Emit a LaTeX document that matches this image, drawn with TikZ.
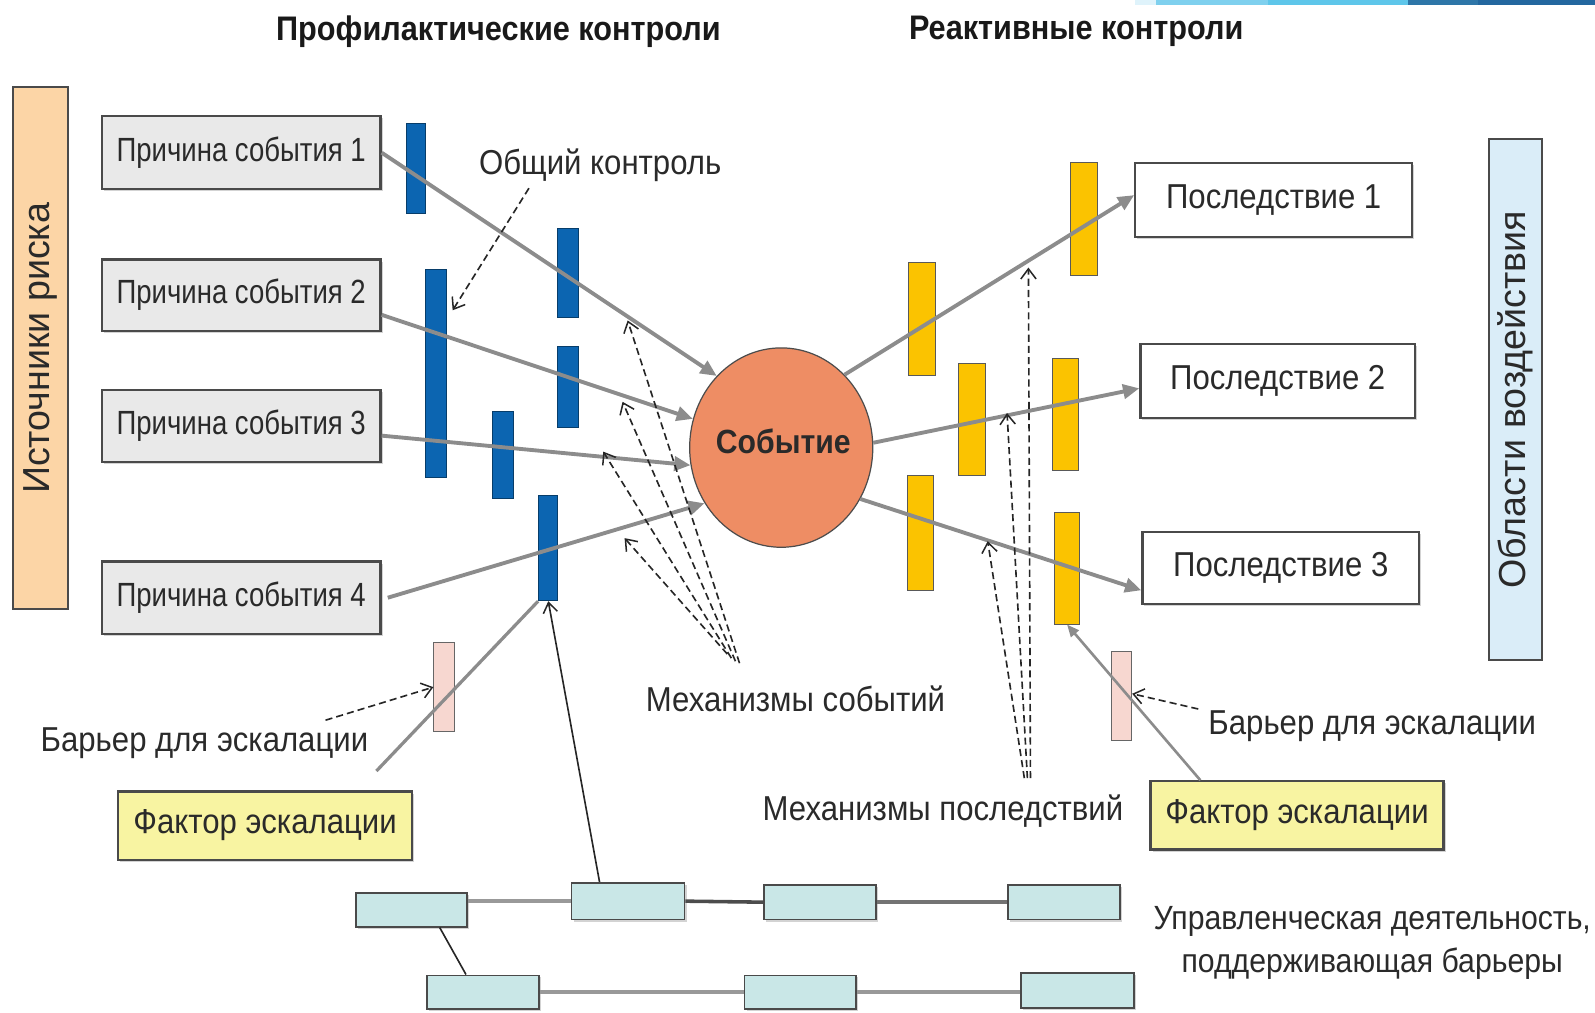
\documentclass[tikz,border=0pt]{standalone}
\usepackage{fontspec}
\setmainfont{Liberation Sans}[FakeStretch=0.9]
\newfontfamily\causefont{Liberation Sans}[FakeStretch=0.82]
\newfontfamily\widefont{Liberation Sans}
\usetikzlibrary{arrows.meta,shadows,calc,shapes.geometric}
\definecolor{peach}{HTML}{FCD5A6}
\definecolor{areablue}{HTML}{DAEDF8}
\definecolor{causefill}{HTML}{E9E9E9}
\definecolor{bluebar}{HTML}{0C65B1}
\definecolor{evfill}{HTML}{EE8D64}
\definecolor{yelbar}{HTML}{FBC300}
\definecolor{pinkbar}{HTML}{F7D7D0}
\definecolor{factfill}{HTML}{F8F4A2}
\definecolor{mgmtfill}{HTML}{C9E7E7}
\definecolor{garr}{HTML}{8C8C8C}
\definecolor{bord}{HTML}{4A4A4A}
\definecolor{txt}{HTML}{2A2A2A}
\definecolor{strA}{HTML}{DFF3FB}
\definecolor{strB}{HTML}{7FD0EE}
\definecolor{strC}{HTML}{5EC6EA}
\definecolor{strD}{HTML}{2E76A8}
\definecolor{strE}{HTML}{23679F}
\begin{document}
\begin{tikzpicture}[x=1pt,y=-1pt,
  every node/.style={font=\fontsize{34}{43}\selectfont, text=txt},
  box/.style={draw=bord, line width=2.2pt, inner sep=0pt, anchor=north west,
    drop shadow={shadow xshift=2pt, shadow yshift=-2pt, opacity=0.35, fill=gray}},
  causebox/.style={box, fill=causefill, font=\causefont\fontsize{33}{40}\selectfont},
  consbox/.style={box, fill=white},
  factbox/.style={box, fill=factfill},
  mgmtbox/.style={box, fill=mgmtfill, line width=1.8pt},
  sidebar/.style={draw=bord, line width=2pt, inner sep=0pt, anchor=north west},
  sidetext/.style={inner sep=1pt, rotate=90, font=\widefont\fontsize{37}{44}\selectfont},
  bar/.style={draw=black!70, line width=1pt, inner sep=0pt, anchor=north west},
  bbar/.style={bar, fill=bluebar, draw=bluebar!60!black},
  ybar/.style={bar, fill=yelbar, draw=black!65},
  pbar/.style={bar, fill=pinkbar, draw=black!60},
  lbl/.style={inner sep=1pt},
  ttl/.style={font=\bfseries\fontsize{33.5}{40}\selectfont, text=black!90},
  garrow/.style={draw=garr, line width=3.8pt, -{Triangle[length=16pt,width=14pt]}},
  gline/.style={draw=garr, line width=3.2pt},
  dasharr/.style={draw=black!85, line width=1.6pt, dash pattern=on 7pt off 4pt,
    -{Straight Barb[length=10pt,width=15pt,line width=1.5pt]}},
  thinarr/.style={draw=black!85, line width=1.6pt, -{Straight Barb[length=10pt,width=14pt,line width=1.5pt]}},
  mline/.style={draw=black!55, line width=3.5pt},
]
\useasboundingbox (0,0) rectangle (1568,995);

% top decoration strip
\fill[strA] (1116,0) rectangle (1136,5);
\fill[strB] (1136,0) rectangle (1247,5);
\fill[strC] (1247,0) rectangle (1384,5);
\fill[strD] (1384,0) rectangle (1453,5);
\fill[strE] (1453,0) rectangle (1568,5);

% titles
\node[ttl] (tprev) at (490,31) {Профилактические контроли};
\node[ttl] (treac) at (1058,31) {Реактивные контроли};

% side bars
\node[sidebar, fill=peach, minimum width=54pt, minimum height=513pt] (src) at (12,85) {};
\node[sidetext] (srct) at (src.center) {Источники риска};
\node[sidebar, fill=areablue, minimum width=52pt, minimum height=512pt] (area) at (1463,136) {};
\node[sidetext] (areat) at (area.center) {Области воздействия};

% cause boxes
\node[causebox, minimum width=274pt, minimum height=72pt] (c1) at (99,113) {Причина события 1};
\node[causebox, minimum width=274pt, minimum height=70pt] (c2) at (99,254) {Причина события 2};
\node[causebox, minimum width=274pt, minimum height=71pt] (c3) at (99,382) {Причина события 3};
\node[causebox, minimum width=274pt, minimum height=71pt] (c4) at (99,551) {Причина события 4};

% consequence boxes
\node[consbox, minimum width=272pt, minimum height=73pt] (q1) at (1115,159) {Последствие 1};
\node[consbox, minimum width=270pt, minimum height=73pt] (q2) at (1120,337) {Последствие 2};
\node[consbox, minimum width=272pt, minimum height=71pt] (q3) at (1122,522) {Последствие 3};

% escalation factor boxes
\node[factbox, minimum width=289pt, minimum height=67pt] (f1) at (115,777) {Фактор эскалации};
\node[factbox, minimum width=288pt, minimum height=67pt] (f2) at (1130,767) {Фактор эскалации};

% blue bars
\node[bbar, minimum width=19pt, minimum height=88pt] (b1) at (399,121) {};
\node[bbar, minimum width=20pt, minimum height=205pt] (b2) at (418,264) {};
\node[bbar, minimum width=20pt, minimum height=88pt] (b3) at (548,224) {};
\node[bbar, minimum width=20pt, minimum height=80pt] (b4) at (548,340) {};
\node[bbar, minimum width=20pt, minimum height=86pt] (b5) at (484,404) {};
\node[bbar, minimum width=19pt, minimum height=103pt] (b6) at (529,487) {};

% yellow bars
\node[ybar, minimum width=26pt, minimum height=111pt] (y1) at (893,258) {};
\node[ybar, minimum width=26pt, minimum height=111pt] (y2) at (1052,159) {};
\node[ybar, minimum width=26pt, minimum height=110pt] (y3) at (942,357) {};
\node[ybar, minimum width=26pt, minimum height=110pt] (y4) at (1034,352) {};
\node[ybar, minimum width=25pt, minimum height=113pt] (y5) at (892,467) {};
\node[ybar, minimum width=25pt, minimum height=110pt] (y6) at (1036,503) {};

% pink bars
\node[pbar, minimum width=20pt, minimum height=88pt] (p1) at (426,631) {};
\node[pbar, minimum width=20pt, minimum height=87pt] (p2) at (1092,640) {};

% event
\node[ellipse, draw=black!70, line width=1.2pt, fill=evfill, minimum width=180pt, minimum height=196pt,
  inner sep=0pt] (ev) at (768,440) {};
\node[lbl, font=\bfseries\fontsize{33}{40}\selectfont] (evt) at (770,434) {Событие};

% gray arrows to event
\draw[garrow] (c1.east) -- (ev.132);
\draw[garrow] (c2.-8) -- (ev.162);
\draw[garrow] (c3.-4) -- (ev.191);
\draw[garrow] ($(c4.east)+(6,0)$) -- (ev.216);

% gray arrows to consequences
\draw[garrow] (ev.49) -- (q1.178);
\draw[garrow] (ev.3) -- (q2.183);
\draw[garrow] (ev.-33) -- (q3.189);

% management boxes
\node[mgmtbox, minimum width=109pt, minimum height=33pt] (m1) at (349,877) {};
\node[mgmtbox, minimum width=111pt, minimum height=36pt] (m2) at (561,867) {};
\node[mgmtbox, minimum width=110pt, minimum height=34pt] (m3) at (750,869) {};
\node[mgmtbox, minimum width=110pt, minimum height=34pt] (m4) at (990,869) {};
\node[mgmtbox, minimum width=110pt, minimum height=33pt] (m5) at (419,958) {};
\node[mgmtbox, minimum width=110pt, minimum height=33pt] (m6) at (731,958) {};
\node[mgmtbox, minimum width=111pt, minimum height=34pt] (m7) at (1003,956) {};
\draw[mline, draw=black!40] (m1.east |- m2.west) -- (m2.west);
\draw[mline, draw=black!70] (m2.east) -- (m3.west);
\draw[mline] (m3.east) -- (m4.west);
\draw[mline, draw=black!40] (m5.east) -- (m6.west);
\draw[mline, draw=black!40] (m6.east) -- (m7.west |- m6.east);
\draw[draw=black!85, line width=1.6pt] (m1.-32) -- (m5.134);

% escalation lines
\coordinate (lesc) at (370,758);
\draw[gline] (lesc) -- (b6.south west);
\draw[thinarr] (m2.146) -- (b6.south);
\draw[draw=garr, line width=2.6pt, -{Triangle[length=12pt,width=10pt]}] (f2.160) -- (y6.south);

% labels
\node[lbl] (okl) at (590,162) {Общий контроль};
\node[lbl] (mev) at (782,687) {Механизмы событий};
\node[lbl] (mcons) at (927,797) {Механизмы последствий};
\node[lbl] (bl) at (201,731) {Барьер для эскалации};
\node[lbl] (br) at (1349,714) {Барьер для эскалации};
\node[lbl, align=center, font=\fontsize{33}{43}\selectfont] (mgt) at (1349,927) {Управленческая деятельность,\\поддерживающая барьеры};

% dashed arrows
\coordinate (okb) at (520,185);
\coordinate (okt) at (445,305);
\draw[dasharr] (okb) -- (okt);

\coordinate (me1) at (727,652); \coordinate (mt1) at (617,315);
\coordinate (me2) at (723,650); \coordinate (mt2) at (612,395);
\coordinate (me3) at (719,647); \coordinate (mt3) at (593,444);
\coordinate (me4) at (715,643); \coordinate (mt4) at (614,529);
\draw[dasharr] (me1) -- (mt1);
\draw[dasharr] (me2) -- (mt2);
\draw[dasharr] (me3) -- (mt3);
\draw[dasharr] (me4) -- (mt4);

\coordinate (mc1) at (1013,765); \coordinate (ct1) at (1011,263);
\coordinate (mc2) at (1010,765); \coordinate (ct2) at (990,406);
\coordinate (mc3) at (1007,765); \coordinate (ct3) at (971,532);
\draw[dasharr] (mc1) -- (ct1);
\draw[dasharr] (mc2) -- (ct2);
\draw[dasharr] (mc3) -- (ct3);

\coordinate (blb) at (320,708);
\draw[dasharr] (blb) -- (p1.west);
\coordinate (brb) at (1178,697);
\draw[dasharr] (brb) -- ($(p2.east)+(0,-2)$);
\end{tikzpicture}
\end{document}
